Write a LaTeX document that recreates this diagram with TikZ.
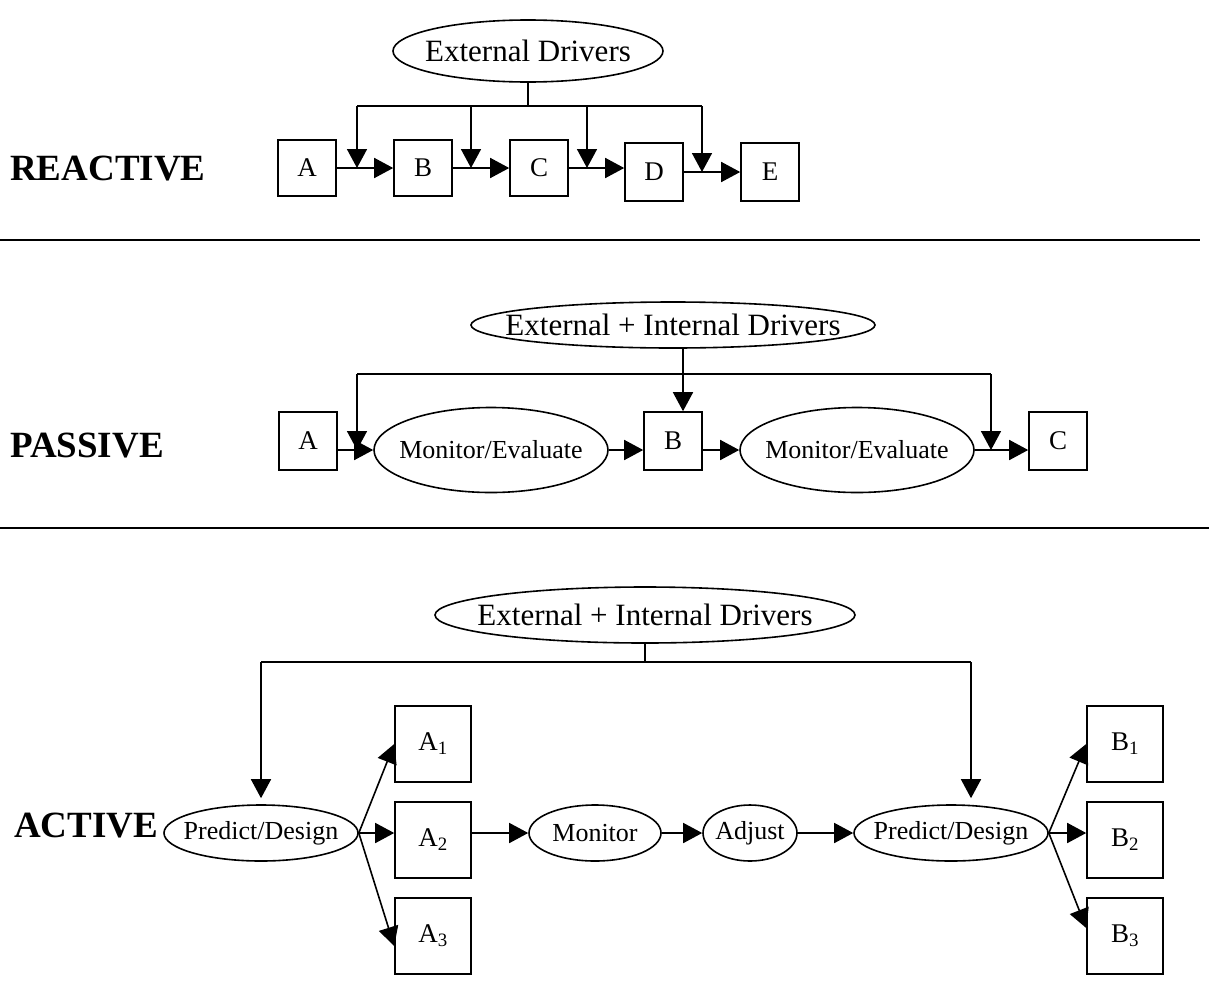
\documentclass[tikz,border=0pt]{standalone}
\usepackage{fontspec}
\setmainfont{Liberation Serif}
\usetikzlibrary{arrows.meta,calc,positioning,shapes.geometric}

\tikzset{
  wire/.style={line width=1.6pt},
  arr/.style={wire,-{Triangle[length=19pt,width=20pt]}},
  box/.style={draw,wire,minimum width=58pt,minimum height=56pt,inner sep=0pt,font=\fontsize{27}{30}\selectfont},
  bigbox/.style={box,minimum width=76pt,minimum height=76pt},
  oval/.style={draw,wire,ellipse,inner xsep=-25pt,inner ysep=0pt,font=\fontsize{26}{30}\selectfont},
  driver/.style={oval,font=\fontsize{31}{34}\selectfont},
  mode/.style={anchor=base west,inner sep=0pt,font=\bfseries\fontsize{37}{40}\selectfont},
  sepline/.style={line width=2.6pt}
}

\begin{document}
\begin{tikzpicture}[x=1pt,y=-1pt]
\useasboundingbox (0,0) rectangle (1209,1004);

% reactive
\node[mode] (lr) at (10,180) {REACTIVE};
\node[driver,minimum width=270pt,minimum height=62pt] (rDrv) at (528,51) {External Drivers};
\node[box] (rA) at (307,168) {A};
\node[box] (rB) at (423,168) {B};
\node[box] (rC) at (539,168) {C};
\node[box,minimum height=58pt] (rD) at (654,172) {D};
\node[box,minimum height=58pt] (rE) at (770,172) {E};
\coordinate (rb1) at (357,106);
\coordinate (rb2) at (471,106);
\coordinate (rb3) at (587,106);
\coordinate (rb4) at (702,106);
\draw[wire] (rDrv.south) -- (rDrv.south |- rb1);
\draw[wire] (rb1) -- (rb4);
\foreach \b/\n in {rb1/rA,rb2/rB,rb3/rC,rb4/rD}
  \draw[arr] (\b) -- (\b |- \n.east);
\draw[arr] (rA) -- (rB);
\draw[arr] (rB) -- (rC);
\draw[arr] (rC.east) -- (rC.east -| rD.west);
\draw[arr] (rD) -- (rE);

\draw[sepline] (0,240) -- (1200,240);

% passive
\node[mode] (lp) at (10,457) {PASSIVE};
\node[driver,minimum width=404pt,minimum height=46pt] (pDrv) at (673,325) {External + Internal Drivers};
\node[box,minimum height=58pt] (pA) at (308,441) {A};
\node[oval,minimum width=234pt,minimum height=85pt] (pM1) at (491,450) {Monitor/Evaluate};
\node[box,minimum height=58pt] (pB) at (673,441) {B};
\node[oval,minimum width=234pt,minimum height=85pt] (pM2) at (857,450) {Monitor/Evaluate};
\node[box,minimum height=58pt] (pC) at (1058,441) {C};
\coordinate (pb1) at (357,374);
\coordinate (pb2) at (991,374);
\coordinate (pt) at (683,374);
\draw[arr] (pt |- pDrv.south) -- (pt |- pB.north);
\draw[wire] (pb1) -- (pb2);
\draw[arr] (pb1) -- (pb1 |- pM1.west);
\draw[arr] (pb2) -- (pb2 |- pM2.east);
\draw[arr] (pA.east |- pM1.west) -- (pM1.west);
\draw[arr] (pM1.east) -- (pM1.east -| pB.west);
\draw[arr] (pB.east |- pM2.west) -- (pM2.west);
\draw[arr] (pM2.east) -- (pM2.east -| pC.west);

\draw[sepline] (0,528) -- (1209,528);

% active
\node[mode] (la) at (14,837) {ACTIVE};
\node[driver,minimum width=420pt,minimum height=56pt] (aDrv) at (645,615) {External + Internal Drivers};
\node[oval,minimum width=194pt,minimum height=56pt] (aP1) at (261,833) {Predict/Design};
\node[bigbox] (aA1) at (433,744) {A\textsubscript{1}};
\node[bigbox] (aA2) at (433,840) {A\textsubscript{2}};
\node[bigbox] (aA3) at (433,936) {A\textsubscript{3}};
\node[oval,minimum width=132pt,minimum height=56pt] (aMon) at (595,833) {Monitor};
\node[oval,minimum width=94pt,minimum height=56pt] (aAdj) at (750,833) {Adjust};
\node[oval,minimum width=194pt,minimum height=56pt] (aP2) at (951,833) {Predict/Design};
\node[bigbox] (aB1) at (1125,744) {B\textsubscript{1}};
\node[bigbox] (aB2) at (1125,840) {B\textsubscript{2}};
\node[bigbox] (aB3) at (1125,936) {B\textsubscript{3}};
\coordinate (ab1) at (261,662);
\coordinate (ab2) at (971,662);
\draw[wire] (aDrv.south) -- (aDrv.south |- ab1);
\draw[wire] (ab1) -- (ab2);
\draw[arr] (ab1) -- ($(aP1.north)+(0,-6)$);
\draw[arr] (ab2) -- ($(ab2 |- aP2.north)+(0,-6)$);
\draw[arr] (aP1.east) -- (aA1.west);
\draw[arr] (aP1.east) -- (aP1.east -| aA2.west);
\draw[arr] (aP1.east) -- ($(aA3.west)+(0,10)$);
\draw[arr] (aA2.east |- aMon.west) -- (aMon.west);
\draw[arr] (aMon) -- (aAdj);
\draw[arr] (aAdj) -- (aP2);
\draw[arr] (aP2.east) -- (aB1.west);
\draw[arr] (aP2.east) -- (aP2.east -| aB2.west);
\draw[arr] (aP2.east) -- ($(aB3.west)+(0,-8)$);
\end{tikzpicture}
\end{document}
